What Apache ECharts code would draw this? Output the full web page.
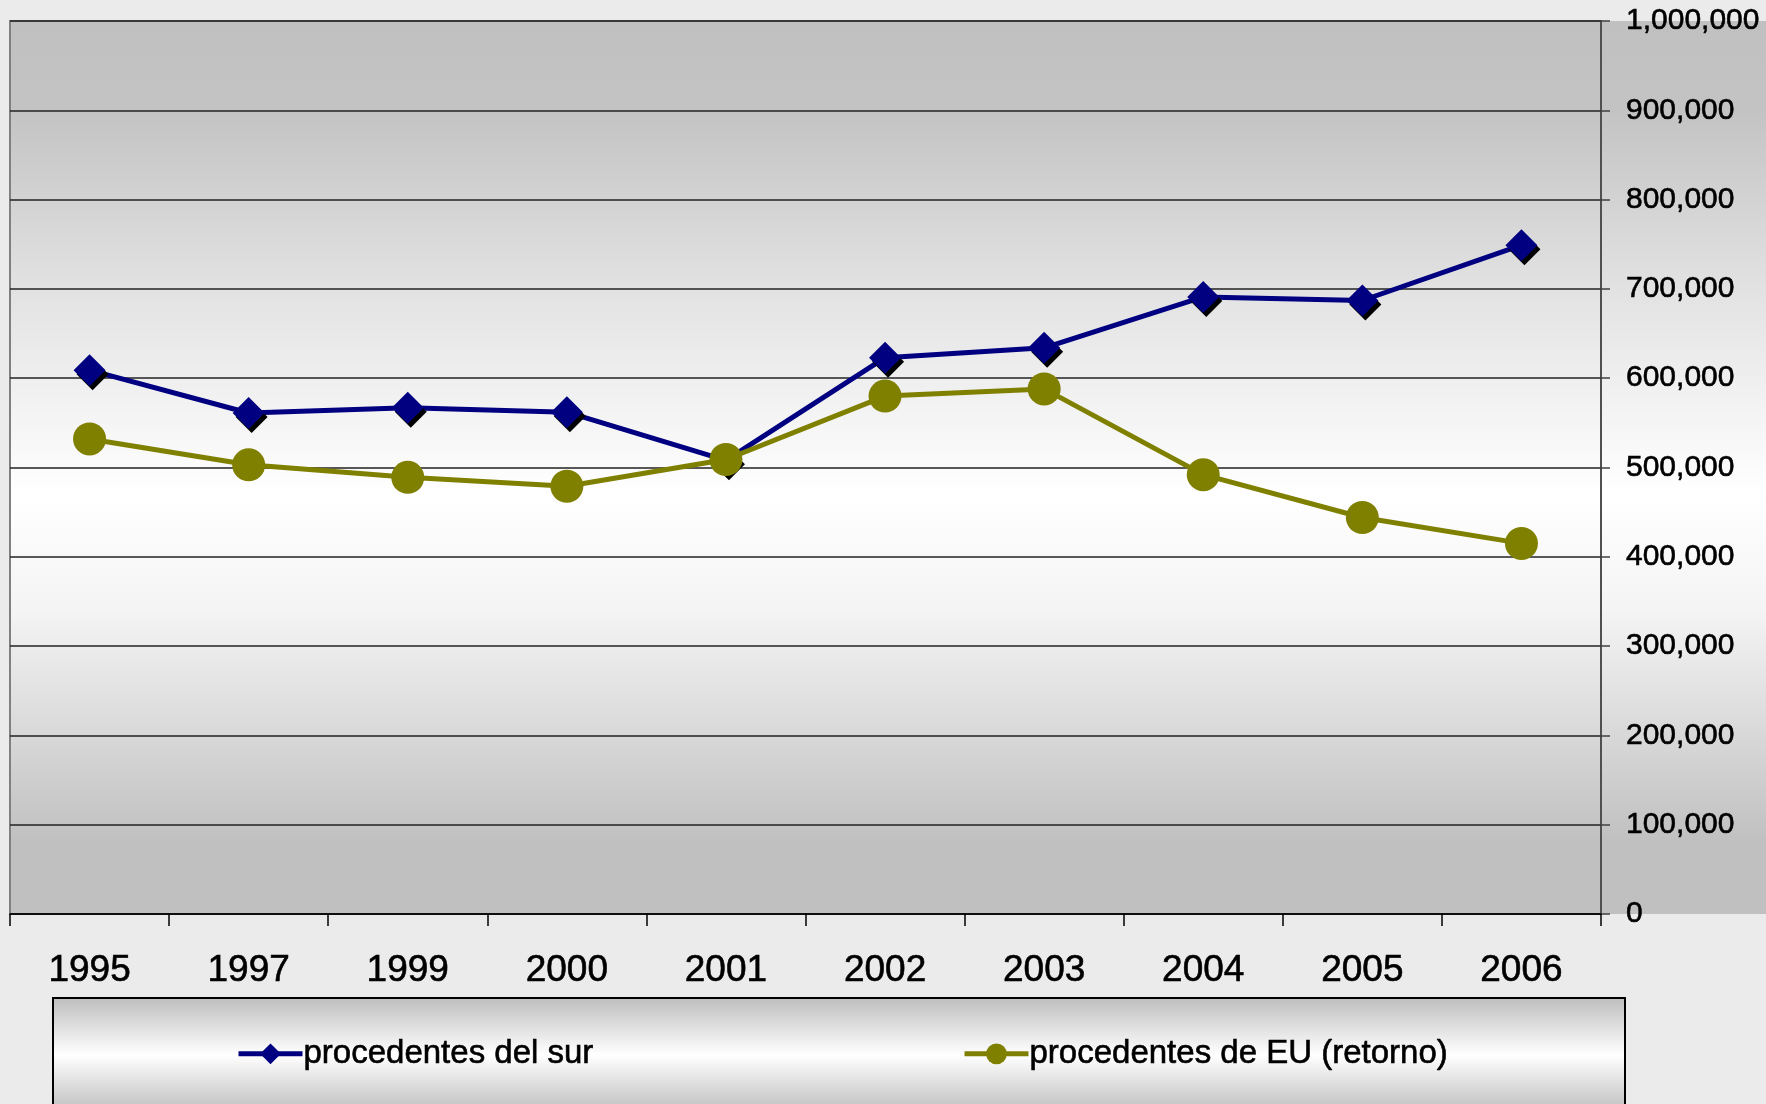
<!DOCTYPE html>
<html>
<head>
<meta charset="utf-8">
<title>procedentes</title>
<script src="https://cdn.jsdelivr.net/npm/echarts@6/dist/echarts.min.js"></script>
<style>
  html, body { margin: 0; padding: 0; background: #ebebeb; }
  #chart { width: 1766px; height: 1104px; }
</style>
</head>
<body>
<div id="chart"></div>
<script>
// datos
const years = ['1995', '1997', '1999', '2000', '2001', '2002', '2003', '2004', '2005', '2006'];
const delSur = [609000, 561000, 567000, 562000, 508000, 623000, 634000, 691000, 687000, 749000];
const deEU = [532000, 503000, 489000, 479000, 509000, 580000, 588000, 492000, 444000, 415000];

const FONT = '"Liberation Sans", Arial, sans-serif';

const chart = echarts.init(document.getElementById('chart'));

const grayGrad = (stops) => new echarts.graphic.LinearGradient(0, 0, 0, 1, stops);

// texto un poco mas grueso, como en el original
const heavy = { textBorderColor: '#000', textBorderWidth: 0.6 };

const option = {
  backgroundColor: '#ebebeb',
  animation: false,
  textStyle: { fontFamily: FONT },
  graphic: [
    {
      type: 'rect',
      z: -10,
      shape: { x: 10, y: 21, width: 1756, height: 893 },
      style: {
        fill: grayGrad([
          { offset: 0, color: '#c0c0c0' },
          { offset: 0.1, color: '#c3c3c3' },
          { offset: 0.3, color: '#e2e2e2' },
          { offset: 0.53, color: '#ffffff' },
          { offset: 0.66, color: '#f4f4f4' },
          { offset: 0.8, color: '#d8d8d8' },
          { offset: 0.92, color: '#c0c0c0' },
          { offset: 1, color: '#c0c0c0' }
        ])
      }
    },
    {
      type: 'rect',
      z: -10,
      shape: { x: 53, y: 998, width: 1572, height: 114 },
      style: {
        fill: grayGrad([
          { offset: 0, color: '#bdbdbd' },
          { offset: 0.5, color: '#ffffff' },
          { offset: 1, color: '#bdbdbd' }
        ]),
        stroke: '#000',
        lineWidth: 2
      }
    }
  ],
  grid: {
    left: 10,
    right: 165,
    top: 21,
    bottom: 190,
    containLabel: false,
    outerBoundsMode: 'none',
    show: true,
    backgroundColor: 'transparent',
    borderColor: '#808080',
    borderWidth: 2
  },
  legend: [
    {
      data: ['procedentes del sur'],
      left: 231,
      top: 1032,
      itemWidth: 64,
      itemHeight: 26,
      itemGap: 0,
      lineStyle: { width: 5 },
      itemStyle: { shadowColor: 'transparent' },
      textStyle: Object.assign({ fontSize: 33, color: '#000', fontFamily: FONT, padding: [0, 0, 0, -4] }, heavy)
    },
    {
      data: ['procedentes de EU (retorno)'],
      left: 957,
      top: 1032,
      itemWidth: 64,
      itemHeight: 26,
      lineStyle: { width: 5 },
      textStyle: Object.assign({ fontSize: 33, color: '#000', fontFamily: FONT, padding: [0, 0, 0, -4] }, heavy)
    }
  ],
  xAxis: {
    type: 'category',
    data: years,
    boundaryGap: true,
    axisLine: { lineStyle: { color: '#000', width: 1.5 } },
    axisTick: { show: true, length: 12, lineStyle: { color: '#000', width: 1.5 } },
    axisLabel: Object.assign({ fontSize: 37, color: '#000', margin: 38, fontFamily: FONT }, heavy),
    splitLine: { show: false }
  },
  yAxis: {
    type: 'value',
    position: 'right',
    min: 0,
    max: 1000000,
    interval: 100000,
    axisLine: { show: true, lineStyle: { color: '#404040', width: 1.5 } },
    axisTick: { show: true, length: 9, lineStyle: { color: '#404040', width: 1.5 } },
    axisLabel: Object.assign({
      fontSize: 30,
      color: '#000',
      margin: 25,
      fontFamily: FONT,
      formatter: (v) => v.toLocaleString('en-US')
    }, heavy),
    splitLine: { show: true, lineStyle: { color: '#222', width: 1.5 } }
  },
  series: [
    {
      name: 'procedentes del sur',
      type: 'line',
      data: delSur,
      symbol: 'diamond',
      symbolSize: 32,
      lineStyle: { color: '#000080', width: 5 },
      itemStyle: {
        color: '#000080',
        shadowColor: '#000',
        shadowOffsetX: 3,
        shadowOffsetY: 4,
        shadowBlur: 0
      },
      z: 3
    },
    {
      name: 'procedentes de EU (retorno)',
      type: 'line',
      data: deEU,
      symbol: 'circle',
      symbolSize: 33,
      lineStyle: { color: '#808000', width: 5 },
      itemStyle: { color: '#808000' },
      z: 4
    }
  ]
};

chart.setOption(option);
window.addEventListener('resize', () => chart.resize());
</script>
</body>
</html>
